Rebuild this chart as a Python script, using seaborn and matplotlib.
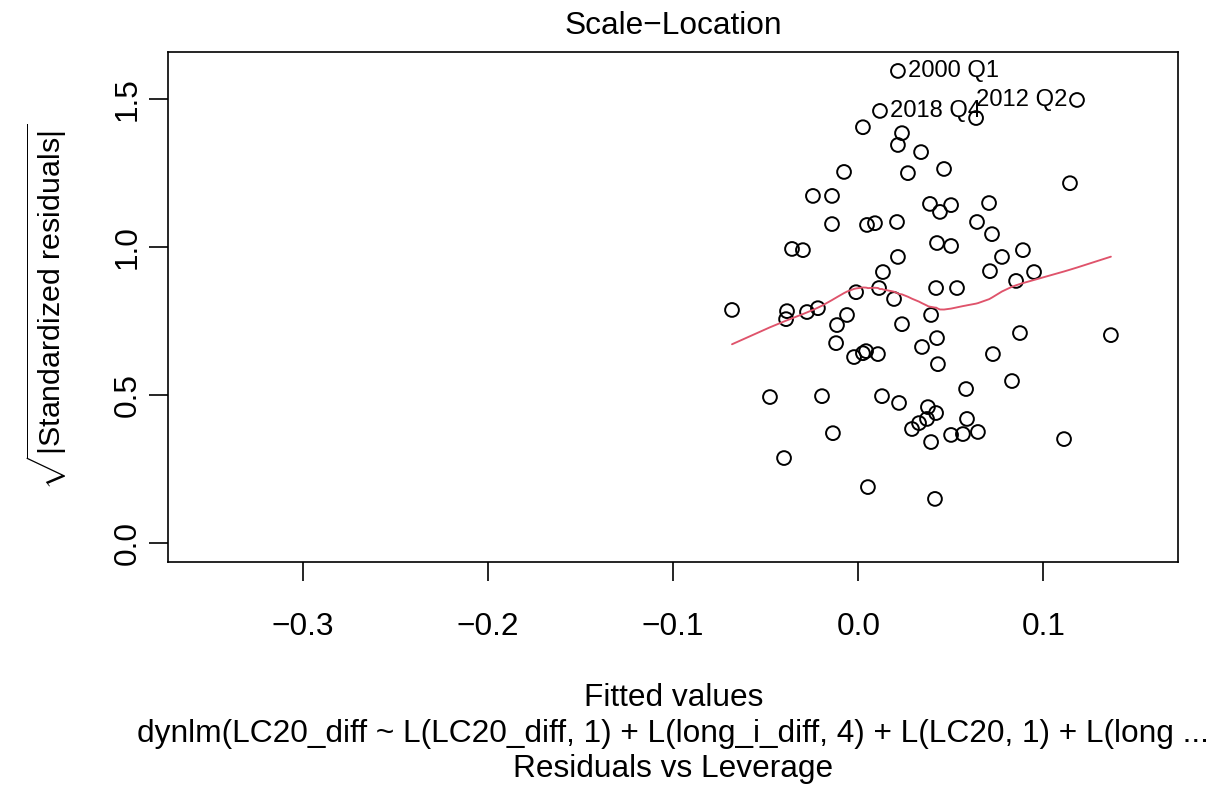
import numpy as np
import pandas as pd
import matplotlib
matplotlib.use("Agg")
import matplotlib.pyplot as plt
import seaborn as sns

# Fitted values and sqrt(|standardized residuals|) of the dynlm model
fitted = [
    0.0214, 0.1181, 0.0117, 0.0636, 0.0025, 0.0236, 0.0214, 0.0339, 0.0463, -0.0077,
    0.0268, 0.1143, -0.0245, -0.0142, 0.0706, 0.0387, 0.0501, 0.0441, -0.0142, 0.0047,
    0.0090, 0.0209, 0.0641, 0.0722, -0.0358, -0.0299, 0.0425, 0.0501, 0.0889, 0.0214,
    0.0776, 0.0133, 0.0711, 0.0949, 0.0852, -0.0012, 0.0112, 0.0420, 0.0533, 0.0193,
    -0.0682, -0.0385, -0.0390, -0.0277, -0.0218, -0.0061, 0.0393, -0.0115, 0.0236, 0.0873,
    0.1364, -0.0120, 0.0344, 0.0425, 0.0727, -0.0023, 0.0025, 0.0042, 0.0106, 0.0430,
    0.0582, 0.0830, -0.0477, -0.0196, 0.0128, 0.0220, 0.0376, 0.0420, 0.0371, 0.0328,
    0.0290, 0.0393, 0.0587, 0.0501, 0.0565, 0.0646, 0.1111, -0.0137, -0.0401, 0.0052,
    0.0414,
]
sqrt_abs_std_resid = [
    1.595, 1.497, 1.460, 1.436, 1.405, 1.385, 1.345, 1.321, 1.264, 1.254,
    1.250, 1.216, 1.173, 1.173, 1.149, 1.146, 1.142, 1.119, 1.078, 1.075,
    1.081, 1.085, 1.085, 1.044, 0.994, 0.990, 1.014, 1.004, 0.990, 0.967,
    0.967, 0.916, 0.919, 0.916, 0.886, 0.848, 0.862, 0.862, 0.862, 0.825,
    0.788, 0.784, 0.757, 0.781, 0.794, 0.771, 0.771, 0.737, 0.740, 0.710,
    0.703, 0.676, 0.663, 0.693, 0.639, 0.629, 0.642, 0.649, 0.639, 0.605,
    0.521, 0.548, 0.494, 0.497, 0.497, 0.474, 0.460, 0.440, 0.420, 0.406,
    0.386, 0.342, 0.420, 0.366, 0.369, 0.376, 0.352, 0.372, 0.288, 0.190,
    0.150,
]

# Largest residuals, identified by quarter
id_index = [0, 1, 2]
id_labels = ["2000 Q1", "2012 Q2", "2018 Q4"]
id_side = ["right", "left", "right"]

x_ticks = [-0.3, -0.2, -0.1, 0.0, 0.1]
x_tick_labels = ["\u22120.3", "\u22120.2", "\u22120.1", "0.0", "0.1"]
y_ticks = [0.0, 0.5, 1.0, 1.5]
y_tick_labels = ["0.0", "0.5", "1.0", "1.5"]

title = "Scale\u2212Location"
x_label = "Fitted values"
sub_caption = "dynlm(LC20_diff ~ L(LC20_diff, 1) + L(long_i_diff, 4) + L(LC20, 1) + L(long ..."
next_caption = "Residuals vs Leverage"


def lowess(x, y, f=2 / 3, iters=3):
    """Locally weighted scatterplot smoothing (Cleveland), as in R's lowess()."""
    order = np.argsort(x, kind="mergesort")
    x = np.asarray(x, float)[order]
    y = np.asarray(y, float)[order]
    n = len(x)
    ns = max(min(int(f * n + 1e-7), n), 2)
    xrange = x[-1] - x[0]
    rw = np.ones(n)
    ys = np.zeros(n)
    for it in range(iters + 1):
        nleft, nright = 0, ns - 1
        for i in range(n):
            while nright < n - 1 and x[i] - x[nleft] > x[nright + 1] - x[i]:
                nleft += 1
                nright += 1
            h = max(x[i] - x[nleft], x[nright] - x[i])
            h9, h1 = 0.999 * h, 0.001 * h
            w = np.zeros(n)
            j = nleft
            while j < n:
                r = abs(x[j] - x[i])
                if r <= h9:
                    w[j] = 1.0 if r <= h1 else (1 - (r / h) ** 3) ** 3
                    w[j] *= rw[j]
                elif x[j] > x[i]:
                    break
                j += 1
            if w.sum() <= 0:
                ys[i] = y[i]
                continue
            w = w / w.sum()
            if h > 0:
                a = np.sum(w * x)
                b = x[i] - a
                c = np.sum(w * (x - a) ** 2)
                if np.sqrt(c) > 0.001 * xrange:
                    b /= c
                    w = w * (b * (x - a) + 1.0)
            ys[i] = np.sum(w * y)
        if it == iters:
            break
        res = y - ys
        cmad = 6 * np.median(np.abs(res))
        if cmad < 1e-7 * np.mean(np.abs(y)):
            break
        r = np.abs(res)
        rw = np.where(r <= 0.001 * cmad, 1.0,
                      np.where(r > 0.999 * cmad, 0.0, (1 - (r / cmad) ** 2) ** 2))
    return x, ys


df = pd.DataFrame({"fitted": fitted, "resid": sqrt_abs_std_resid})
sx, sy = lowess(df["fitted"].values, df["resid"].values)
smooth = pd.DataFrame({"fitted": sx, "resid": sy})

sns.set_style("white")
plt.rcParams["font.family"] = ["Liberation Sans", "DejaVu Sans"]
plt.rcParams["mathtext.fontset"] = "custom"
plt.rcParams["mathtext.rm"] = "Liberation Sans"
plt.rcParams["mathtext.it"] = "Liberation Sans:italic"
plt.rcParams["mathtext.bf"] = "Liberation Sans:bold"
for key in ("text.color", "axes.labelcolor", "xtick.color", "ytick.color", "axes.edgecolor"):
    plt.rcParams[key] = "black"

W, H = 1221, 795
FS = 22.8
fig = plt.figure(figsize=(W / 100, H / 100), dpi=100)
fig.patch.set_facecolor("white")
left, top, right, bottom = 168.3, 51.7, 1178.3, 562.3
ax = fig.add_axes([left / W, 1 - bottom / H, (right - left) / W, (bottom - top) / H])

sns.scatterplot(data=df, x="fitted", y="resid", ax=ax, marker="o", s=98,
                facecolors="none", edgecolors="black", linewidths=1.4, legend=False)
sns.lineplot(data=smooth, x="fitted", y="resid", ax=ax, color="#DF536B",
             linewidth=1.35, estimator=None, sort=False)

ax.set_xlim(-0.3726, 0.1728)
ax.set_ylim(-0.064, 1.660)
ax.set_xticks(x_ticks)
ax.set_xticklabels(x_tick_labels)
ax.set_yticks(y_ticks)
ax.set_yticklabels(y_tick_labels, rotation=90, va="center")
ax.tick_params(axis="both", which="major", direction="out", length=13.7, width=1.2,
               labelsize=FS, colors="black", labelcolor="black",
               bottom=True, left=True, top=False, right=False)
ax.tick_params(axis="x", pad=22)
ax.tick_params(axis="y", pad=5)
for sp in ax.spines.values():
    sp.set_visible(True)
    sp.set_linewidth(1.2)
    sp.set_color("black")
ax.set_xlabel("")
ax.set_ylabel("")
ax.grid(False)

for idx, lab, side in zip(id_index, id_labels, id_side):
    dx = 7 if side == "right" else -7
    ax.annotate(lab, (fitted[idx], sqrt_abs_std_resid[idx]), xytext=(dx, 0),
                textcoords="offset points", ha="left" if side == "right" else "right",
                va="center", fontsize=FS * 0.75, color="black")

fig.text(673.3 / W, 1 - 34 / H, title, ha="center", va="baseline", fontsize=FS)
fig.text(673.3 / W, 1 - 706 / H, x_label, ha="center", va="baseline", fontsize=FS)
fig.text(673.3 / W, 1 - 742 / H, sub_caption, ha="center", va="baseline", fontsize=FS)
fig.text(673.3 / W, 1 - 777 / H, next_caption, ha="center", va="baseline", fontsize=FS)
fig.text(47 / W, 1 - 307 / H, r"$\sqrt{|\mathrm{Standardized\ residuals}|}$",
         rotation=90, ha="center", va="center", fontsize=FS * 0.96)

fig.savefig("out.png", dpi=100, facecolor="white")
